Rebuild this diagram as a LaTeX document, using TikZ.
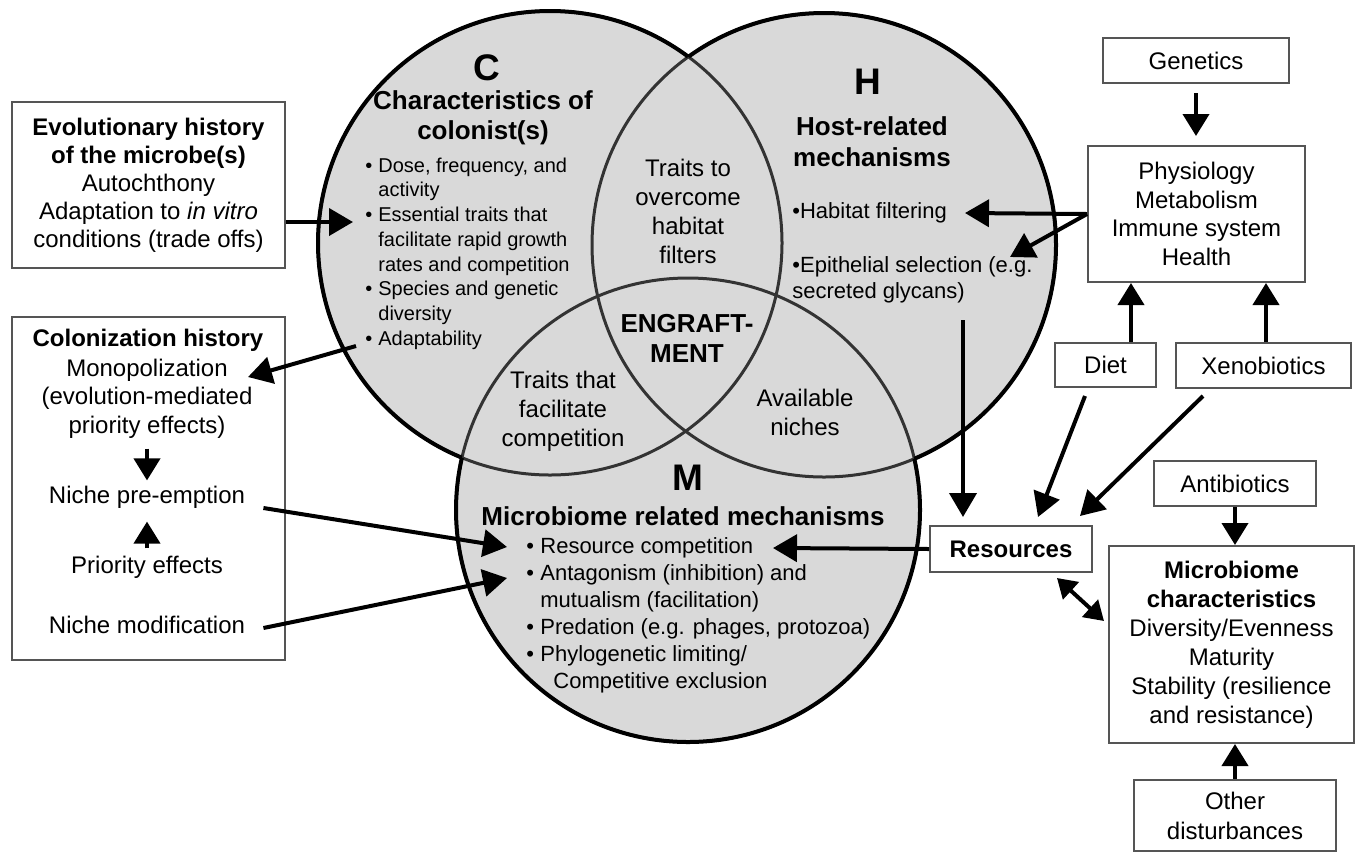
\documentclass[tikz,border=0pt]{standalone}
\usepackage{fontspec}
\setmainfont{Liberation Sans}
\usetikzlibrary{arrows.meta}
\definecolor{venn}{HTML}{D9D9D9}
\definecolor{boxline}{HTML}{555555}
\definecolor{innerline}{HTML}{333333}
\newcommand\cbul{\makebox[6.5pt][l]{\textbullet}}
\newcommand\cind{\hspace*{6.5pt}}
\newcommand\mbul{\makebox[7pt][l]{\textbullet}}
\newcommand\mind{\hspace*{7pt}}
\begin{document}
\begin{tikzpicture}[x=0.5pt,y=-0.5pt,
  box/.style={draw=boxline,line width=1pt,fill=white,inner sep=0pt,align=center,font=\fontsize{12}{14}\selectfont},
  arr/.style={line width=2pt,-{Triangle[length=12pt,width=13.5pt]}},
  sarr/.style={line width=2pt,-{Triangle[length=11pt,width=13pt]}},
  darr/.style={line width=2pt,{Triangle[length=9.5pt,width=11.5pt]}-{Triangle[length=9.5pt,width=11.5pt]}},
  tx/.style={font=\fontsize{12}{14.5}\selectfont,align=center,inner sep=0pt},
  hd/.style={font=\bfseries\fontsize{13}{15}\selectfont,align=center,inner sep=0pt},
  big/.style={font=\bfseries\fontsize{18.5}{20}\selectfont,inner sep=0pt},
  bl/.style={font=\fontsize{11}{13.5}\selectfont,align=left,inner sep=0pt,anchor=west},
]
\fill[white] (0,0) rectangle (1360,852);
\useasboundingbox (0,0) rectangle (1360,852);

% ---------- Venn circles ----------
\coordinate (Cc) at (550,243);
\coordinate (Hc) at (824,245);
\coordinate (Mc) at (688,510);
\fill[venn] (Cc) circle[radius=116pt];
\fill[venn] (Hc) circle[radius=116pt];
\fill[venn] (Mc) circle[radius=116pt];
\draw[innerline,line width=1.5pt] (Cc) circle[radius=116pt];
\draw[innerline,line width=1.5pt] (Hc) circle[radius=116pt];
\draw[innerline,line width=1.5pt] (Mc) circle[radius=116pt];
\begin{scope}[even odd rule]
  \clip (0,0) rectangle (1360,852) (Hc) circle[radius=116pt];
  \clip (0,0) rectangle (1360,852) (Mc) circle[radius=116pt];
  \draw[black,line width=2pt] (Cc) circle[radius=116pt];
\end{scope}
\begin{scope}[even odd rule]
  \clip (0,0) rectangle (1360,852) (Cc) circle[radius=116pt];
  \clip (0,0) rectangle (1360,852) (Mc) circle[radius=116pt];
  \draw[black,line width=2pt] (Hc) circle[radius=116pt];
\end{scope}
\begin{scope}[even odd rule]
  \clip (0,0) rectangle (1360,852) (Cc) circle[radius=116pt];
  \clip (0,0) rectangle (1360,852) (Hc) circle[radius=116pt];
  \draw[black,line width=2pt] (Mc) circle[radius=116pt];
\end{scope}

% ---------- texts in circles ----------
\node[big] (Cl) at (487,68) {C};
\node[hd] (Ct) at (483,118) {Characteristics of\\colonist(s)};
\node[bl,font=\fontsize{10}{12.35}\selectfont] (Cb) at (365,253.5)
  {\cbul Dose, frequency, and\\\cind activity\\\cbul Essential traits that\\\cind facilitate rapid growth\\\cind rates and competition\\\cbul Species and genetic\\\cind diversity\\\cbul Adaptability};

\node[big] (Hl) at (868,82) {H};
\node[hd,font=\bfseries\fontsize{13}{15.5}\selectfont] (Ht) at (872,141.5) {Host-related\\mechanisms};
\node[bl] (hab) at (792,213) {\textbullet Habitat filtering};
\node[bl,font=\fontsize{11}{13}\selectfont] (epi) at (792,280) {\textbullet Epithelial selection (e.g.\\secreted glycans)};

\node[tx] (tover) at (688,211.5) {Traits to\\overcome\\habitat\\filters};
\node[hd] (eng) at (687,338) {ENGRAFT-\\MENT};
\node[tx] (tcomp) at (563,411) {Traits that\\facilitate\\competition};
\node[tx] (avail) at (805,412.5) {Available\\niches};

\node[big] (Ml) at (688,478) {M};
\node[hd] (Mt) at (683,516) {Microbiome related mechanisms};
\node[bl] (Mb) at (526,615.5)
  {\mbul Resource competition\\\mbul Antagonism (inhibition) and\\\mind mutualism (facilitation)\\\mbul Predation (e.g. phages, protozoa)\\\mbul Phylogenetic limiting/\\\hspace*{13.5pt}Competitive exclusion};

% ---------- left boxes ----------
\node[box,minimum width=136.5pt,minimum height=83pt] (evo) at (148.5,185)
  {\textbf{Evolutionary history}\\\textbf{of the microbe(s)}\\Autochthony\\Adaptation to \textit{in vitro}\\conditions (trade offs)};
\node[box,minimum width=136.5pt,minimum height=171.5pt] (col) at (148.5,488.5) {};
\node[tx,font=\bfseries\fontsize{12}{14}\selectfont] (colh) at (148,340) {Colonization history};
\node[tx,font=\fontsize{12}{14.3}\selectfont] (mono) at (147,398.5) {Monopolization\\(evolution-mediated\\priority effects)};
\node[tx] (pre) at (147,497) {Niche pre-emption};
\node[tx] (prio) at (147,567) {Priority effects};
\node[tx] (nmod) at (147,625) {Niche modification};

% ---------- right boxes ----------
\node[box,minimum width=93pt,minimum height=22.5pt] (gen) at (1196,60.5) {Genetics};
\node[box,minimum width=108.5pt,minimum height=68pt,font=\fontsize{12}{14.3}\selectfont] (phys) at (1196.5,214) {Physiology\\Metabolism\\Immune system\\Health};
\node[box,minimum width=50.5pt,minimum height=22pt] (diet) at (1105.5,365) {Diet};
\node[box,minimum width=87.5pt,minimum height=22.5pt] (xeno) at (1263.5,365.5) {Xenobiotics};
\node[box,minimum width=81pt,minimum height=23pt,font=\bfseries\fontsize{12}{14}\selectfont] (res) at (1011,549) {Resources};
\node[box,minimum width=81pt,minimum height=22.5pt] (anti) at (1235,483.5) {Antibiotics};
\node[box,minimum width=122.5pt,minimum height=98.5pt,font=\fontsize{12}{14.5}\selectfont] (micro) at (1231.5,644.5)
  {\textbf{Microbiome}\\\textbf{characteristics}\\Diversity/Evenness\\Maturity\\Stability (resilience\\and resistance)};
\node[box,minimum width=101pt,minimum height=35.5pt,font=\fontsize{12}{15}\selectfont] (other) at (1235,815.5) {Other\\disturbances};

% ---------- coordinates for free ends ----------
\coordinate (evotip) at (353,222);
\coordinate (cstart) at (356,346);
\coordinate (montip) at (248,377);
\coordinate (rcL) at (507,547);
\coordinate (amL) at (507,578);
\coordinate (rcR) at (773,548);
\coordinate (habtip) at (965,213);
\coordinate (epitip) at (1010,257);
\coordinate (hstart) at (963,320);
\coordinate (resA) at (1038,517);
\coordinate (resB) at (1080,516);
\coordinate (dA) at (1057,578);
\coordinate (dB) at (1104,621);

% ---------- connectors ----------
\draw[arr] (evo.east |- evotip) -- (evotip);
\draw[arr] (cstart) -- (montip);
\draw[sarr,shorten <=5pt,shorten >=2.5pt] (mono.south) -- (pre.north);
\draw[sarr,shorten <=3.5pt,shorten >=6.5pt] (prio.north) -- (pre.south);
\draw[arr] ([xshift=9pt,yshift=-5.5pt]pre.east) -- (rcL);
\draw[arr] ([xshift=9pt,yshift=-1.5pt]nmod.east) -- (amL);
\draw[arr] (res.west) -- (rcR);

\draw[sarr,shorten <=4.5pt,shorten >=4.5pt] (gen.south) -- (gen.south |- phys.north);
\draw[sarr] ([xshift=12.75pt]diet.north) -- ([xshift=12.75pt]diet.north |- phys.south);
\draw[sarr] ([xshift=1.25pt]xeno.north) -- ([xshift=1.25pt]xeno.north |- phys.south);
\draw[arr] (phys.west) -- (habtip);
\draw[arr] (phys.west) -- (epitip);

\draw[arr] (hstart) -- (hstart |- resA);
\draw[arr] ([xshift=-10.25pt,yshift=-4pt]diet.south) -- (resA);
\draw[arr] ([xshift=-30.25pt,yshift=-3.5pt]xeno.south) -- (resB);
\draw[darr] (dA) -- (dB);
\draw[sarr] (anti.south) -- (anti.south |- micro.north);
\draw[sarr] (other.north) -- (other.north |- micro.south);
\end{tikzpicture}
\end{document}
